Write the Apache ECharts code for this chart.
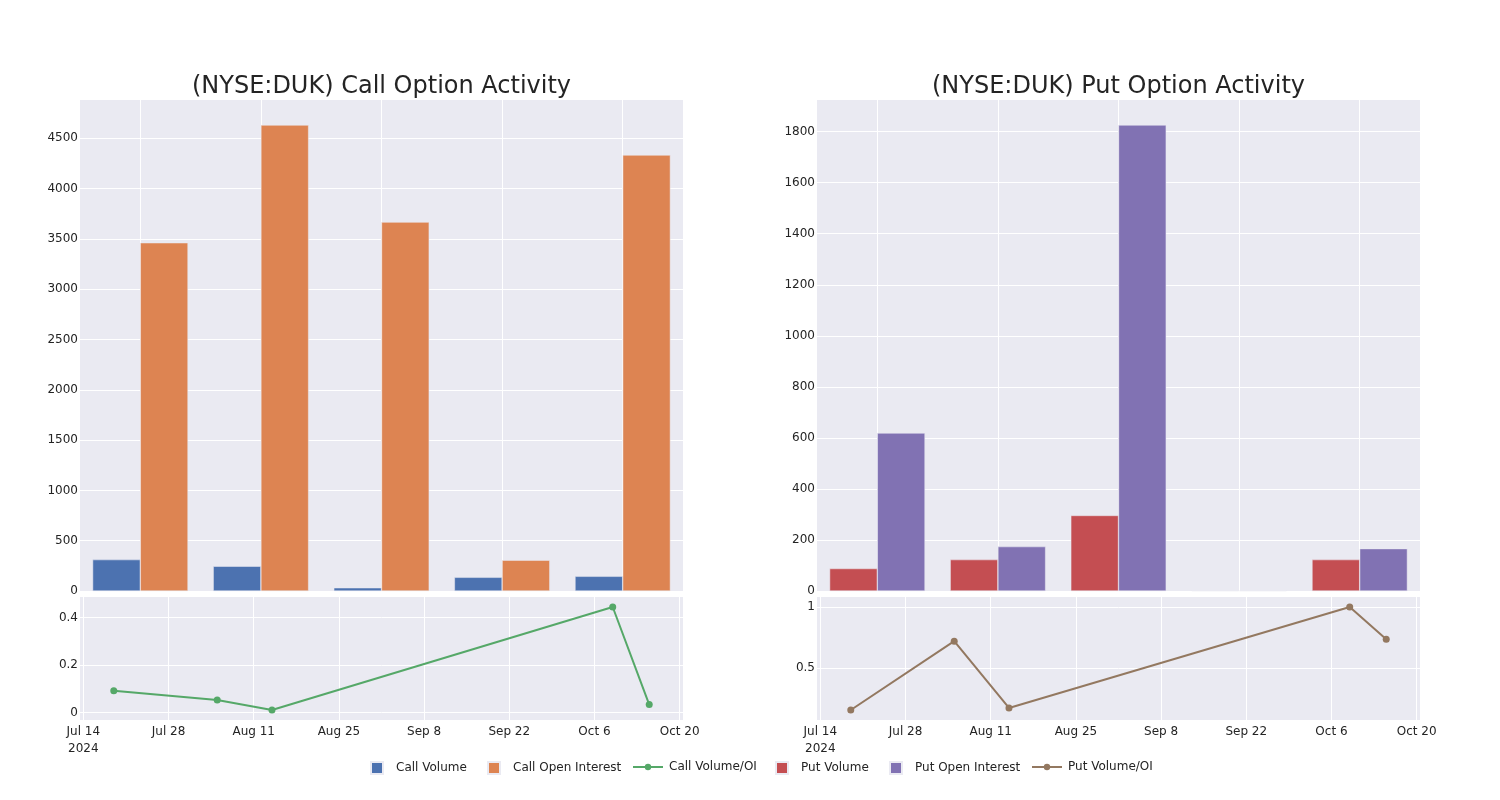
<!DOCTYPE html>
<html>
<head>
<meta charset="utf-8">
<script src="https://cdn.jsdelivr.net/npm/echarts@6/dist/echarts.min.js"></script>
<style>
html,body{margin:0;padding:0;background:#fff;}
#chart{width:1500px;height:800px;}
</style>
</head>
<body>
<div id="chart"></div>
<script>
// ---- data ----
const barCategories = ['2024-07-19', '2024-08-05', '2024-08-14', '2024-10-09', '2024-10-15'];
const callVolume = [312, 246, 32, 136, 146];
const callOpenInterest = [3462, 4632, 3667, 306, 4334];
const putVolume = [88, 123, 296, 2, 123];
const putOpenInterest = [619, 174, 1826, 2, 166];

const ratioDates = ['2024-07-19', '2024-08-05', '2024-08-14', '2024-10-09', '2024-10-15'];
const callVolOI = [0.092, 0.053, 0.011, 0.444, 0.034];
const putVolOI = [0.153, 0.719, 0.17, 1.0, 0.735];

const titles = ['(NYSE:DUK) Call Option Activity', '(NYSE:DUK) Put Option Activity'];
const legendNames = ['Call Volume', 'Call Open Interest', 'Call Volume/OI', 'Put Volume', 'Put Open Interest', 'Put Volume/OI'];
const monthNames = ['Jan','Feb','Mar','Apr','May','Jun','Jul','Aug','Sep','Oct','Nov','Dec'];

// ---- helpers ----
const BASE = Date.UTC(2024, 6, 14);
const DAY = 86400000;
function dayOffset(s) {
  const p = s.split('-').map(Number);
  return (Date.UTC(p[0], p[1] - 1, p[2]) - BASE) / DAY;
}
function dateLabel(v) {
  const d = new Date(BASE + Math.round(v) * DAY);
  let s = monthNames[d.getUTCMonth()] + ' ' + d.getUTCDate();
  if (Math.round(v) === 0) s += '\n' + d.getUTCFullYear();
  return s;
}

const FONT = 'DejaVu Sans';
const TXT = 'rgb(36,36,36)';
const BG = 'rgb(234,234,242)';
const colors = {
  callVol: '#4C72B0', callOI: '#DD8452', callRatio: '#55A868',
  putVol: '#C44E52', putOI: '#8172B3', putRatio: '#937860'
};

const gridDefs = [
  {left: 80, top: 100, width: 603, height: 491},
  {left: 80, top: 597, width: 603, height: 123},
  {left: 817, top: 100, width: 603, height: 491},
  {left: 817, top: 597, width: 603, height: 123}
].map(g => Object.assign({show: true, backgroundColor: BG, borderWidth: 0, containLabel: false}, g));

function barXAxis(gi) {
  return {
    type: 'category', gridIndex: gi, data: barCategories,
    axisLine: {show: false}, axisTick: {show: false}, axisLabel: {show: false},
    splitLine: {show: false}
  };
}
function timeXAxis(gi) {
  return {
    type: 'value', gridIndex: gi, min: -0.55, max: 98.55,
    minInterval: 14, maxInterval: 14,
    axisLine: {show: false}, axisTick: {show: false},
    axisLabel: {
      formatter: dateLabel, color: TXT, fontFamily: FONT, fontSize: 12,
      lineHeight: 17, margin: 3, showMinLabel: false, showMaxLabel: false
    },
    splitLine: {show: true, showMinLine: false, showMaxLine: false, lineStyle: {color: '#fff', width: 1}}
  };
}
const plainNum = v => String(v);
function yAxisDef(gi, opts, showMin) {
  return Object.assign({
    type: 'value', gridIndex: gi,
    axisLine: {show: false}, axisTick: {show: false},
    axisLabel: {color: TXT, fontFamily: FONT, fontSize: 12, margin: 2,
      showMinLabel: showMin, showMaxLabel: false, formatter: plainNum},
    splitLine: {show: true, showMinLine: showMin, showMaxLine: false, lineStyle: {color: '#fff', width: 1}}
  }, opts);
}

function centerLineSeries(xi, yi) {
  return {
    name: 'category-centers', type: 'line', xAxisIndex: xi, yAxisIndex: yi,
    data: [], silent: true, animation: false,
    markLine: {
      silent: true, symbol: 'none', z: 1, animation: false,
      label: {show: false},
      lineStyle: {color: '#fff', width: 1, type: 'solid'},
      emphasis: {disabled: true},
      data: barCategories.map(c => ({xAxis: c}))
    }
  };
}

function barSeries(name, data, color, xi, yi) {
  return {
    name, type: 'bar', xAxisIndex: xi, yAxisIndex: yi, data,
    barWidth: 47.7, barGap: '0%',
    itemStyle: {color, borderColor: BG, borderWidth: 0.5},
    animation: false
  };
}
function lineSeries(name, dates, vals, color, xi, yi) {
  return {
    name, type: 'line', xAxisIndex: xi, yAxisIndex: yi,
    data: dates.map((d, i) => [dayOffset(d), vals[i]]),
    symbol: 'circle', symbolSize: 7, showSymbol: true,
    lineStyle: {color, width: 2}, itemStyle: {color},
    animation: false
  };
}

// legend items placed individually (positions only)
const legendLefts = [365, 482, 627, 770, 884, 1026];
const legendIsLine = [false, false, true, false, false, true];
const legends = legendNames.map((n, i) => legendIsLine[i] ? {
  left: legendLefts[i], top: 756, itemWidth: 30, itemHeight: 8, itemGap: 0,
  textStyle: {fontFamily: FONT, fontSize: 12, color: TXT, padding: [0, 0, 0, 1]},
  data: [{name: n}]
} : {
  left: legendLefts[i], top: 756, itemWidth: 12, itemHeight: 12, itemGap: 0,
  textStyle: {fontFamily: FONT, fontSize: 12, color: TXT, padding: [0, 0, 0, 8]},
  data: [{name: n, icon: 'rect'}]
});

const titleStyle = {fontFamily: FONT, fontSize: 24, fontWeight: 'normal', color: TXT};
const option = {
  animation: false,
  textStyle: {fontFamily: FONT},
  title: [
    {text: titles[0], left: 376.5, top: 70, textAlign: 'center', textStyle: titleStyle},
    {text: titles[1], left: 1113.5, top: 70, textAlign: 'center', textStyle: titleStyle}
  ],
  legend: legends,
  grid: gridDefs,
  xAxis: [barXAxis(0), timeXAxis(1), barXAxis(2), timeXAxis(3)],
  yAxis: [
    yAxisDef(0, {min: 0, max: 4881, interval: 500}, true),
    yAxisDef(1, {min: -0.031, max: 0.486, minInterval: 0.2, maxInterval: 0.2}, false),
    yAxisDef(2, {min: 0, max: 1924, interval: 200}, true),
    yAxisDef(3, {min: 0.071, max: 1.082, minInterval: 0.5, maxInterval: 0.5}, false)
  ],
  series: [
    centerLineSeries(0, 0),
    barSeries(legendNames[0], callVolume, colors.callVol, 0, 0),
    barSeries(legendNames[1], callOpenInterest, colors.callOI, 0, 0),
    lineSeries(legendNames[2], ratioDates, callVolOI, colors.callRatio, 1, 1),
    centerLineSeries(2, 2),
    barSeries(legendNames[3], putVolume, colors.putVol, 2, 2),
    barSeries(legendNames[4], putOpenInterest, colors.putOI, 2, 2),
    lineSeries(legendNames[5], ratioDates, putVolOI, colors.putRatio, 3, 3)
  ]
};

const chart = echarts.init(document.getElementById('chart'), null, {renderer: 'canvas'});
chart.setOption(option);
</script>
</body>
</html>
